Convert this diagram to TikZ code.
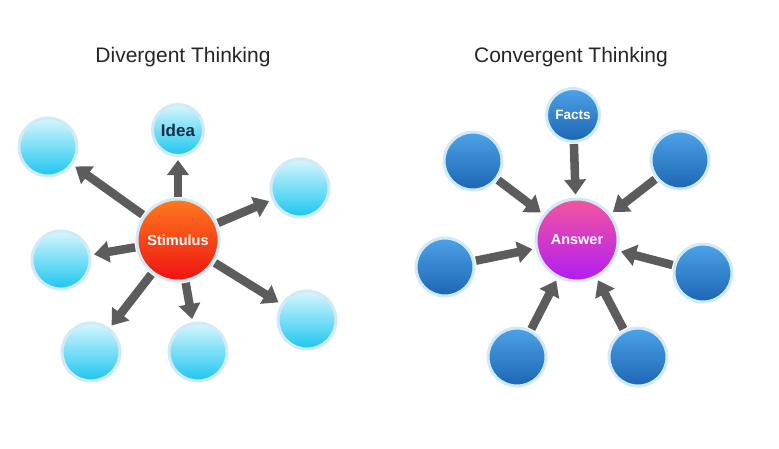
\documentclass[tikz,border=0pt]{standalone}
\usepackage{fontspec}
\setmainfont{Liberation Sans}
\usetikzlibrary{arrows.meta}

\definecolor{ringcol}{HTML}{D2EAF6}
\definecolor{cyantop}{HTML}{D6F6FD}
\definecolor{cyanbot}{HTML}{1CC6F0}
\definecolor{bluetop}{HTML}{4DA2E6}
\definecolor{bluebot}{HTML}{1C66B4}
\definecolor{stimtop}{HTML}{FF7A1E}
\definecolor{stimbot}{HTML}{EE1212}
\definecolor{anstop}{HTML}{F4569E}
\definecolor{ansbot}{HTML}{B01CF4}
\definecolor{arrowcol}{HTML}{5C5C5C}
\definecolor{ideatext}{HTML}{1A2E48}

\tikzset{
  bubble/.style={circle, draw=ringcol, line width=3pt, minimum size=58pt, inner sep=0pt},
  lightbubble/.style={bubble, top color=cyantop, bottom color=cyanbot},
  darkbubble/.style={bubble, top color=bluetop, bottom color=bluebot},
  hub/.style={circle, draw=ringcol, line width=3pt, minimum size=82pt, inner sep=0pt,
    font=\bfseries\fontsize{14.5}{14.5}\selectfont, text=white},
  title/.style={font=\fontsize{21}{21}\selectfont, text=black!85},
  fat/.style={draw=arrowcol, line width=8.5pt, -{Triangle[length=15pt, width=21pt]},
    shorten <=1pt, shorten >=3pt}
}

\begin{document}
\begin{tikzpicture}[x=1pt, y=-1pt]
    \useasboundingbox [fill=white] (0,0) rectangle (779,448);

    \node [title] (divtitle) at (183,57) {Divergent Thinking};
    \node [title] (contitle) at (571,57) {Convergent Thinking};

    \node [hub, top color=stimtop, bottom color=stimbot] (stim) at (178,240) {Stimulus};
    \node [lightbubble, minimum size=51pt, font=\bfseries\fontsize{17}{17}\selectfont, text=ideatext] (idea) at (178,130) {Idea};
    \node [lightbubble] (d1) at (48,147) {};
    \node [lightbubble] (d2) at (300,188) {};
    \node [lightbubble] (d3) at (61,260) {};
    \node [lightbubble] (d4) at (307,320) {};
    \node [lightbubble] (d5) at (91,352) {};
    \node [lightbubble] (d6) at (198,352) {};

    \draw [fat] (stim) -- (idea);
    \draw [fat] (stim) -- (d1);
    \draw [fat] (stim) -- (d2);
    \draw [fat] (stim) -- (d3);
    \draw [fat] (stim) -- (d4);
    \draw [fat] (stim) -- (d5);
    \draw [fat] (stim) -- (d6);

    \node [hub, top color=anstop, bottom color=ansbot] (ans) at (577,240) {Answer};
    \node [darkbubble, minimum size=53pt, font=\bfseries\fontsize{13.5}{13.5}\selectfont, text=white] (facts) at (573,115) {Facts};
    \node [darkbubble] (c1) at (473,161) {};
    \node [darkbubble] (c2) at (680,160) {};
    \node [darkbubble] (c3) at (445,267) {};
    \node [darkbubble] (c4) at (703,273) {};
    \node [darkbubble] (c5) at (517,357) {};
    \node [darkbubble] (c6) at (638,357) {};

    \draw [fat] (facts) -- (ans);
    \draw [fat] (c1) -- (ans);
    \draw [fat] (c2) -- (ans);
    \draw [fat] (c3) -- (ans);
    \draw [fat] (c4) -- (ans);
    \draw [fat] (c5) -- (ans);
    \draw [fat] (c6) -- (ans);
\end{tikzpicture}
\end{document}
